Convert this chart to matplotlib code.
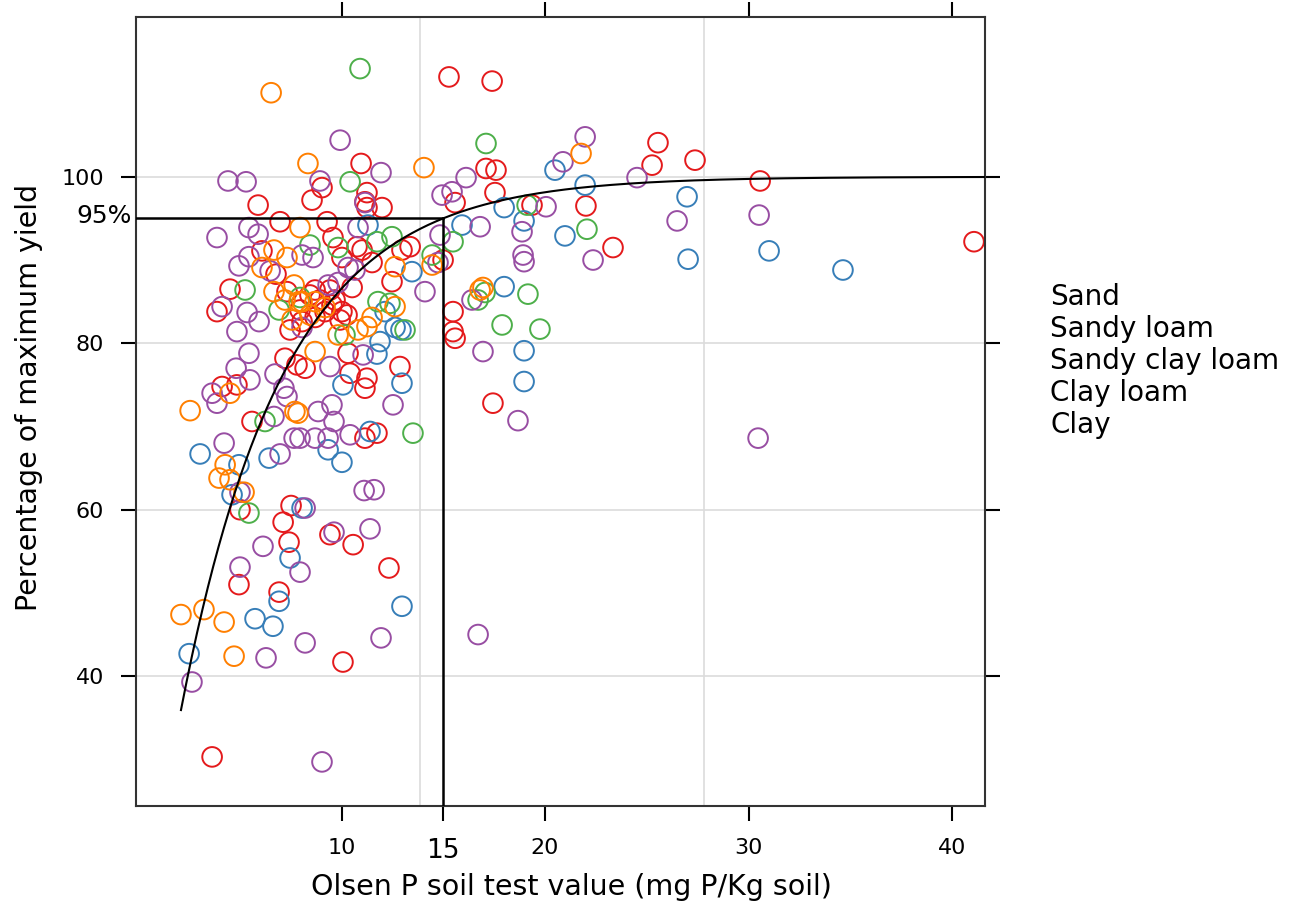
import numpy as np
import matplotlib
matplotlib.use("Agg")
import matplotlib.pyplot as plt

# soil classes and their point colours
classes = ["Sand", "Sandy loam", "Sandy clay loam", "Clay loam", "Clay"]
colors = ["#E41A1C", "#377EB8", "#4DAF4A", "#984EA3", "#FF7F00"]

sand_x = [15.28, 17.40, 10.96, 17.10, 17.59, 25.55, 25.26, 27.37, 30.57, 9.04, 8.55, 11.25, 11.15,
          11.25, 11.99, 15.58, 5.90, 6.98, 9.29, 9.58, 6.09, 6.78, 4.52, 7.32, 3.88, 7.47, 13.37,
          12.97, 14.99, 12.48, 15.48, 15.48, 10.02, 10.76, 11.01, 11.50, 10.52, 10.02, 10.27, 9.53,
          9.93, 8.94, 8.45, 15.58, 10.32, 12.87, 10.42, 11.25, 11.15, 11.15, 11.74, 7.22, 7.81, 8.21,
          4.13, 4.86, 5.60, 5.01, 7.52, 7.13, 9.43, 10.57, 7.42, 4.96, 6.93, 12.33, 10.07, 3.64,
          17.54, 22.01, 19.36, 23.34, 41.08, 17.44, 7.96, 8.70, 9.19, 9.68, 8.06, 8.70, 9.43]
sand_y = [112.0, 111.5, 101.6, 101.0, 100.8, 104.1, 101.4, 102.0, 99.5, 98.7, 97.2, 98.1, 97.0,
          96.3, 96.3, 96.9, 96.6, 94.6, 94.6, 92.7, 91.1, 88.3, 86.5, 86.2, 83.8, 81.6, 91.6,
          91.2, 90.0, 87.4, 83.8, 81.4, 90.3, 91.6, 91.2, 89.7, 86.7, 83.8, 83.4, 84.6,
          82.8, 85.2, 85.8, 80.6, 78.8, 77.2, 76.4, 75.8, 74.6, 68.6, 69.2, 78.2, 77.4, 77.0,
          74.8, 75.0, 70.6, 60.0, 60.5, 58.5, 57.0, 55.8, 56.1, 51.0, 50.1, 53.0, 41.7, 30.3,
          98.1, 96.5, 96.6, 91.5, 92.2, 72.8, 84.0, 83.1, 83.8, 85.2, 82.6, 86.4, 86.4]

sandy_loam_x = [20.49, 21.97, 26.98, 17.99, 18.97, 20.98, 27.03, 31.01, 34.64, 17.99, 18.97, 18.97,
                15.92, 11.30, 13.46, 12.14, 12.63, 12.92, 11.89, 11.74, 12.97, 10.07, 11.40, 9.34,
                10.02, 3.05, 4.96, 6.44, 4.62, 8.06, 7.47, 6.93, 12.97, 5.75, 6.63, 2.51]
sandy_loam_y = [100.8, 99.0, 97.6, 96.3, 94.7, 92.9, 90.1, 91.1, 88.8, 86.8, 79.1, 75.4,
                94.2, 94.2, 88.6, 83.8, 81.9, 81.6, 80.2, 78.7, 75.2, 75.0, 69.4, 67.2,
                65.7, 66.7, 65.4, 66.2, 61.8, 60.2, 54.2, 49.0, 48.4, 46.9, 46.0, 42.7]

sandy_clay_loam_x = [10.91, 17.10, 10.42, 5.26, 6.93, 12.48, 11.74, 8.45, 9.83, 15.48, 14.45, 16.71,
                     12.38, 11.79, 13.12, 10.17, 13.51, 6.24, 5.45, 19.12, 22.06, 17.05, 19.16,
                     17.89, 19.75, 7.96]
sandy_clay_loam_y = [113.0, 104.0, 99.4, 86.4, 84.0, 92.8, 92.2, 91.8, 91.5, 92.2, 90.6, 85.2,
                     84.8, 85.0, 81.6, 81.0, 69.2, 70.6, 59.6, 96.6, 93.7, 86.1, 85.9,
                     82.2, 81.7, 85.5]

clay_loam_x = [9.93, 11.94, 4.42, 5.31, 8.94, 16.12, 20.88, 21.97, 24.52, 11.15, 14.94, 15.43,
               16.81, 14.84, 14.74, 14.10, 16.41, 10.81, 8.60, 8.06, 10.32, 10.66, 9.34, 9.83,
               8.06, 3.88, 5.45, 5.90, 4.96, 5.45, 6.49, 4.13, 5.36, 5.95, 4.86, 5.45, 4.82,
               5.50, 3.64, 3.88, 6.73, 7.17, 7.32, 7.67, 6.68, 4.23, 6.98, 16.95, 11.06, 9.43,
               12.53, 8.85, 9.53, 9.63, 7.96, 8.70, 9.34, 10.42, 11.11, 11.60, 8.21, 9.63, 11.40,
               6.14, 7.96, 5.01, 11.94, 8.21, 6.29, 2.65, 9.04, 16.71, 26.49, 30.52, 18.87,
               18.92, 18.97, 22.36, 18.67, 30.47, 20.05, 5.01]
clay_loam_y = [104.4, 100.5, 99.5, 99.4, 99.5, 99.9, 101.8, 104.8, 99.9, 96.9, 97.8, 98.2,
               94.0, 93.0, 89.7, 86.2, 85.2, 93.9, 90.3, 90.6, 89.1, 88.8, 87.0, 87.3,
               81.9, 92.7, 93.9, 93.1, 89.3, 90.4, 88.7, 84.4, 83.7, 82.6, 81.4, 78.8, 77.0,
               75.6, 74.0, 72.8, 76.3, 74.6, 73.6, 68.6, 71.2, 68.0, 66.7, 79.0, 78.6, 77.2,
               72.6, 71.8, 72.6, 70.6, 68.6, 68.6, 68.6, 69.0, 62.3, 62.4, 60.2, 57.3, 57.7,
               55.6, 52.5, 53.1, 44.6, 44.0, 42.2, 39.3, 29.7, 45.0, 94.7, 95.4, 93.4,
               90.6, 89.8, 90.0, 70.7, 68.6, 96.4, 62.1]

clay_x = [6.54, 8.35, 14.05, 21.77, 7.96, 6.68, 7.32, 6.68, 7.67, 7.91, 14.45, 12.63, 16.81,
          12.63, 11.50, 9.19, 8.06, 8.70, 10.81, 11.25, 9.83, 8.70, 7.86, 4.52, 2.56, 7.71,
          4.28, 3.98, 4.52, 5.21, 2.11, 3.24, 4.23, 4.72, 16.95, 7.22, 8.45, 7.57, 6.09]
clay_y = [110.1, 101.6, 101.1, 102.8, 93.9, 91.2, 90.3, 86.2, 87.0, 85.0, 89.4, 89.2, 86.4,
          84.4, 83.1, 84.3, 85.0, 85.0, 81.6, 82.0, 81.0, 79.0, 71.6, 74.0, 71.9, 71.8,
          65.4, 63.8, 63.6, 62.1, 47.4, 48.0, 46.5, 42.4, 86.7, 85.2, 83.4, 82.8, 89.1]

series_x = [sand_x, sandy_loam_x, sandy_clay_loam_x, clay_loam_x, clay_x]
series_y = [sand_y, sandy_loam_y, sandy_clay_loam_y, clay_loam_y, clay_y]

# fitted Mitscherlich curve: y = A - B*exp(-k*x)
fit_A, fit_B, fit_k = 100.0, 97.3, 0.198
fit_xmin, fit_xmax = 2.11, 41.6
crit_x, crit_y = 15, 95

fig = plt.figure(figsize=(12.9, 9.14), dpi=100)
ax = fig.add_axes([136/1290, 1 - 806/914, (985 - 136)/1290, (806 - 17)/914])

ax.set_xlim(-0.1, 41.62)
ax.set_ylim(24.4, 119.2)

# light reference grid
for gx in [13.86, 27.8]:
    ax.axvline(gx, color="#dcdcdc", lw=1.2, zorder=0)
for gy in [40, 60, 80, 100]:
    ax.axhline(gy, color="#dcdcdc", lw=1.2, zorder=0)

for xs, ys, c, name in zip(series_x, series_y, colors, classes):
    ax.scatter(xs, ys, s=200, facecolors="none", edgecolors=c, linewidths=1.4,
               label=name, zorder=2)

xf = np.linspace(fit_xmin, fit_xmax, 300)
ax.plot(xf, fit_A - fit_B*np.exp(-fit_k*xf), color="black", lw=1.5, zorder=3)
ax.plot([ax.get_xlim()[0], crit_x], [crit_y, crit_y], color="black", lw=1.8, zorder=3)
ax.plot([crit_x, crit_x], [ax.get_ylim()[0], crit_y], color="black", lw=1.8, zorder=3)

for sp in ax.spines.values():
    sp.set_color("#333333")
    sp.set_linewidth(1.5)

ax.set_xticks([10, 15, 20, 30, 40])
ax.set_xticklabels(["10", "15", "20", "30", "40"])
ax.set_yticks([40, 60, 80, 100])
ax.set_yticklabels(["40", "60", "80", "100"])
ax.tick_params(direction="out", length=11, width=1.5, labelsize=16, pad=12, color="black")
ax.get_xticklabels()[1].set_fontsize(19)
ax.text(-0.3, crit_y + 0.3, "95%", ha="right", va="center", fontsize=18)

top = ax.secondary_xaxis("top")
top.set_xticks([10, 20, 30, 40])
top.tick_params(direction="out", length=11, width=1.5, labeltop=False)
top.spines["top"].set_visible(False)
right = ax.secondary_yaxis("right")
right.set_yticks([40, 60, 80, 100])
right.tick_params(direction="out", length=11, width=1.5, labelright=False)
right.spines["right"].set_visible(False)

ax.set_xlabel("Olsen P soil test value (mg P/Kg soil)", fontsize=20.5)
ax.set_ylabel("Percentage of maximum yield", fontsize=20.5)
ax.xaxis.set_label_coords(0.513, -0.085)
ax.yaxis.set_label_coords(-0.110, 0.518)

for i, name in enumerate(classes):
    fig.text(1050/1290, 1 - (297 + 32*i)/914, name, fontsize=20, va="center", ha="left")

fig.savefig("out.png", dpi=100)
